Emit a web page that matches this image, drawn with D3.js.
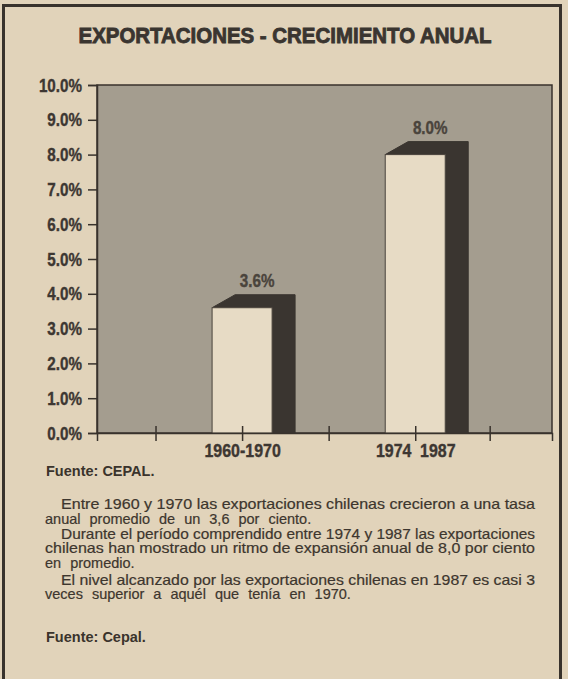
<!DOCTYPE html>
<html><head><meta charset="utf-8">
<script src="https://cdn.jsdelivr.net/npm/d3@7"></script>
<style>
body{margin:0;background:#e1d3ba;}
svg{display:block;}
</style>
</head><body>
<svg id="chart" width="568" height="679"></svg>
<script>
// ---- data ----
const chartTitle = "EXPORTACIONES - CRECIMIENTO ANUAL";
const categories = ["1960-1970", "1974 1987"];
const categoryPositions = [1, 2];
const values = [3.6, 8.0];
const valueLabels = ["3.6%", "8.0%"];
const yTickValues = [0, 1, 2, 3, 4, 5, 6, 7, 8, 9, 10];
const yTickLabels = ["0.0%", "1.0%", "2.0%", "3.0%", "4.0%", "5.0%", "6.0%", "7.0%", "8.0%", "9.0%", "10.0%"];
const xTickValues = [0.5, 1, 1.5, 2, 2.43];
const sourceTop = "Fuente: CEPAL.";
const noteLines = [
  "Entre 1960 y 1970 las exportaciones chilenas crecieron a una tasa",
  "anual promedio de un 3,6 por ciento.",
  "Durante el período comprendido entre 1974 y 1987 las exportaciones",
  "chilenas han mostrado un ritmo de expansión anual de 8,0 por ciento",
  "en promedio.",
  "El nivel alcanzado por las exportaciones chilenas en 1987 es casi 3",
  "veces superior a aquél que tenía en 1970."
];
const noteParagraphStarts = [0, 2, 5];
const noteJustified = [0, 2, 3, 5];
const sourceBottom = "Fuente: Cepal.";

// ---- layout ----
const svg = d3.select("#chart");
const W = 568, H = 679;
const plot = {left: 97, right: 552, top: 85, bottom: 433};
const ink = "#38322c";
const sans = "'Liberation Sans',Arial,sans-serif";

function compress(sel, f) {
  sel.each(function () {
    const l = this.getComputedTextLength();
    d3.select(this).attr("textLength", l * f).attr("lengthAdjust", "spacingAndGlyphs");
  });
}

svg.append("rect").attr("width", W).attr("height", H).attr("fill", "#e1d3ba");
// frame
svg.append("rect").attr("x", 3.5).attr("y", 5.5).attr("width", 557).attr("height", 700)
  .attr("fill", "none").attr("stroke", ink).attr("stroke-width", 3);

// title
svg.append("text").attr("x", 285).attr("y", 43).attr("text-anchor", "middle")
  .attr("font-family", sans).attr("font-weight", "bold")
  .attr("font-size", 22.5).attr("fill", "#3a3530").attr("stroke", "#3a3530").attr("stroke-width", 0.9)
  .attr("textLength", 413).attr("lengthAdjust", "spacingAndGlyphs")
  .text(chartTitle);

const y = d3.scaleLinear().domain([0, 10]).range([plot.bottom, plot.top]);
const x = d3.scaleLinear().domain([0.162, 2.79]).range([plot.left, plot.right]);

// plot background
svg.append("rect").attr("x", plot.left).attr("y", plot.top)
  .attr("width", plot.right - plot.left).attr("height", plot.bottom - plot.top)
  .attr("fill", "#a49d8f").attr("stroke", ink).attr("stroke-width", 1.5);

// bars
const barW = 60, dx = 23, dy = -13;
const bars = svg.append("g");
categories.forEach((c, i) => {
  const cx = x(categoryPositions[i]);
  const x0 = cx - barW / 2, x1 = cx + barW / 2;
  const yt = y(values[i]), yb = y(0);
  bars.append("path")
    .attr("d", `M${x0},${yt} L${x0 + dx},${yt + dy} L${x1 + dx},${yt + dy} L${x1 + dx},${yb} L${x1},${yb} L${x1},${yt} Z`)
    .attr("fill", "#3a3530").attr("stroke", "#3a3530").attr("stroke-width", 1);
  bars.append("rect").attr("x", x0).attr("y", yt).attr("width", barW).attr("height", yb - yt)
    .attr("fill", "#e7dbc5").attr("stroke", "#4a443d").attr("stroke-width", 1);
  const t = bars.append("text").attr("x", cx + 15).attr("y", yt + dy - 8).attr("text-anchor", "middle")
    .attr("font-family", sans).attr("font-weight", "bold").attr("font-size", 19)
    .attr("fill", "#4a443c").attr("stroke", "#4a443c").attr("stroke-width", 0.4).text(valueLabels[i]);
  compress(t, 0.8);
});

// y axis
const yAxis = d3.axisLeft(y).tickValues(yTickValues).tickSize(9).tickPadding(6)
  .tickFormat((d, i) => yTickLabels[i]);
const gy = svg.append("g").attr("transform", `translate(${plot.left},0)`).call(yAxis);
gy.select(".domain").attr("stroke", ink).attr("stroke-width", 1.5);
gy.selectAll(".tick line").attr("stroke", ink).attr("stroke-width", 1.5);
gy.selectAll(".tick text").attr("font-family", sans).attr("font-weight", "bold")
  .attr("font-size", 19).attr("fill", "#3d3732").attr("stroke", "#3d3732").attr("stroke-width", 0.4);
compress(gy.selectAll(".tick text"), 0.8);

// x axis
const xAxis = d3.axisBottom(x).tickValues(xTickValues).tickSize(8).tickFormat("");
const gx = svg.append("g").attr("transform", `translate(0,${plot.bottom})`).call(xAxis);
gx.select(".domain").attr("stroke", ink).attr("stroke-width", 1.5);
gx.selectAll(".tick line").attr("y1", -7).attr("stroke", ink).attr("stroke-width", 1.5);
const xLab = d3.axisBottom(x).tickValues(categoryPositions).tickSize(0).tickPadding(11)
  .tickFormat((d, i) => categories[i]);
const gxl = svg.append("g").attr("transform", `translate(0,${plot.bottom})`).call(xLab);
gxl.select(".domain").remove();
gxl.selectAll(".tick text").attr("font-family", sans).attr("font-weight", "bold")
  .attr("font-size", 19).attr("fill", "#3d3732").attr("stroke", "#3d3732").attr("stroke-width", 0.4)
  .attr("word-spacing", 5);
compress(gxl.selectAll(".tick text"), 0.84);

// notes
svg.append("text").attr("x", 46).attr("y", 476)
  .attr("font-family", sans).attr("font-weight", "bold").attr("font-size", 14.5)
  .attr("fill", "#3a332c").text(sourceTop);

const lineY0 = 509, lineStep = 14.8;
noteLines.forEach((t, i) => {
  const indent = noteParagraphStarts.includes(i);
  const xs = indent ? 61 : 45;
  const tx = svg.append("text").attr("x", xs).attr("y", lineY0 + i * lineStep + (i >= 5 ? 1.5 : 0))
    .attr("font-family", sans).attr("font-size", 14.5).attr("fill", "#3d362e")
    .attr("stroke", "#3d362e").attr("stroke-width", 0.2).text(t);
  if (noteJustified.includes(i)) tx.attr("textLength", 535 - xs).attr("lengthAdjust", "spacingAndGlyphs");
  else tx.attr("word-spacing", 5);
});

svg.append("text").attr("x", 46).attr("y", 642)
  .attr("font-family", sans).attr("font-weight", "bold").attr("font-size", 14.5)
  .attr("fill", "#3a332c").text(sourceBottom);
</script>
</body></html>
